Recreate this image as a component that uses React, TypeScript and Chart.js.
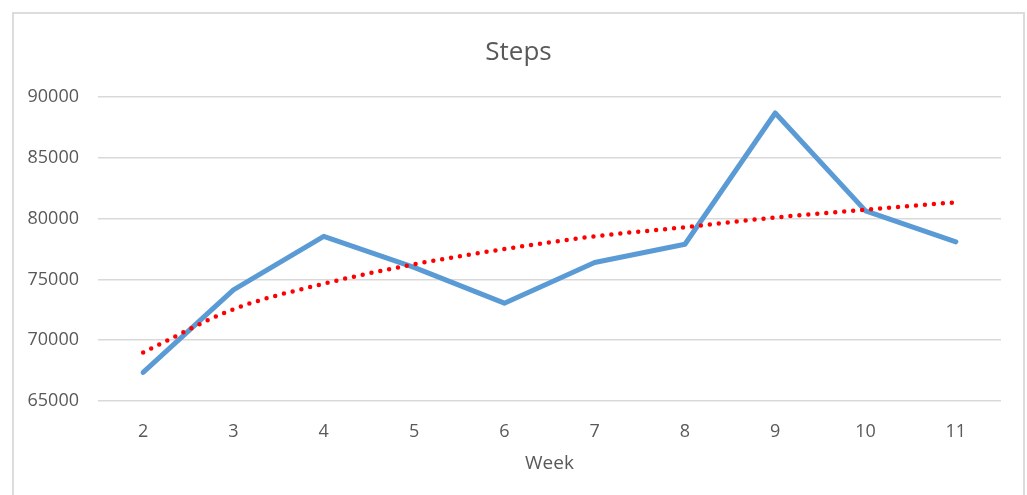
import React, { useEffect, useRef } from "react";
import { Chart, registerables } from "chart.js";

Chart.register(...registerables);

const weeks: string[] = ["2", "3", "4", "5", "6", "7", "8", "9", "10", "11"];
const steps: number[] = [67350, 74150, 78550, 76000, 73050, 76400, 77900, 88700, 80650, 78100];
const stepsTrend: number[] = [68990, 72550, 74650, 76250, 77500, 78550, 79300, 80100, 80750, 81350];
const yTicks: number[] = [65000, 70000, 75000, 80000, 85000, 90000];

const FONT = "'Open Sans', 'Noto Sans', sans-serif";
const TEXT = "#595959";
const GRID = "#d9d9d9";

// Centre the title over the whole framed box instead of the padded area.
const titleSpan = {
  id: "titleSpan",
  afterLayout(chart: any) {
    const t = chart.titleBlock;
    if (t) {
      t.left = 13;
      t.right = 1024;
      t.width = t.right - t.left;
    }
  },
};

export default function App() {
  const ref = useRef<HTMLCanvasElement | null>(null);

  useEffect(() => {
    if (!ref.current) return;
    const chart = new Chart(ref.current, {
      type: "line",
      data: {
        labels: weeks,
        datasets: [
          {
            label: "Steps",
            data: steps,
            borderColor: "#5b9bd5",
            borderWidth: 5,
            pointRadius: 0,
            tension: 0,
            borderJoinStyle: "round",
            borderCapStyle: "round",
            fill: false,
            order: 2,
          },
          {
            label: "Trend",
            data: stepsTrend,
            borderColor: "#ff0000",
            borderWidth: 4.5,
            borderDash: [0, 9],
            borderCapStyle: "round",
            pointRadius: 0,
            tension: 0.4,
            cubicInterpolationMode: "monotone",
            fill: false,
            order: 1,
          },
        ],
      },
      options: {
        responsive: false,
        animation: false,
        layout: { padding: { left: 0, right: 26, top: 0, bottom: 0 } },
        plugins: {
          legend: { display: false },
          tooltip: { enabled: false },
          title: {
            display: true,
            text: "Steps",
            color: TEXT,
            font: { family: FONT, size: 26, weight: "normal" },
            padding: { top: 37, bottom: 29 },
          },
        },
        scales: {
          x: {
            type: "category",
            offset: true,
            grid: { display: false, drawTicks: false },
            border: { display: false },
            ticks: {
              color: TEXT,
              font: { family: FONT, size: 18 },
              padding: 20,
              maxRotation: 0,
            },
            title: {
              display: true,
              text: "Week",
              color: TEXT,
              font: { family: FONT, size: 19 },
              padding: { top: 0, bottom: 20 },
            },
            afterFit: (scale: any) => {
              scale.height = 94;
            },
          },
          y: {
            min: yTicks[0],
            max: yTicks[yTicks.length - 1],
            afterBuildTicks: (scale: any) => {
              scale.ticks = yTicks.map((v) => ({ value: v }));
            },
            grid: { color: GRID, lineWidth: 1.5, drawTicks: false },
            border: { display: false },
            ticks: {
              color: TEXT,
              font: { family: FONT, size: 18 },
              padding: 19,
              callback: (v: any) => String(v),
            },
            afterFit: (scale: any) => {
              scale.width = 98;
            },
          },
        },
      },
      plugins: [titleSpan],
    });
    return () => chart.destroy();
  }, []);

  return (
    <div
      style={{
        position: "fixed",
        left: 0,
        top: 0,
        width: 1027,
        height: 495,
        overflow: "hidden",
        background: "#ffffff",
      }}
    >
      <div
        style={{
          position: "absolute",
          left: 12,
          top: 12,
          width: 1009,
          height: 520,
          border: "2px solid #dcdcdc",
        }}
      />
      <canvas
        ref={ref}
        width={1027}
        height={495}
        style={{ position: "absolute", left: 0, top: 0, width: 1027, height: 495 }}
      />
    </div>
  );
}
